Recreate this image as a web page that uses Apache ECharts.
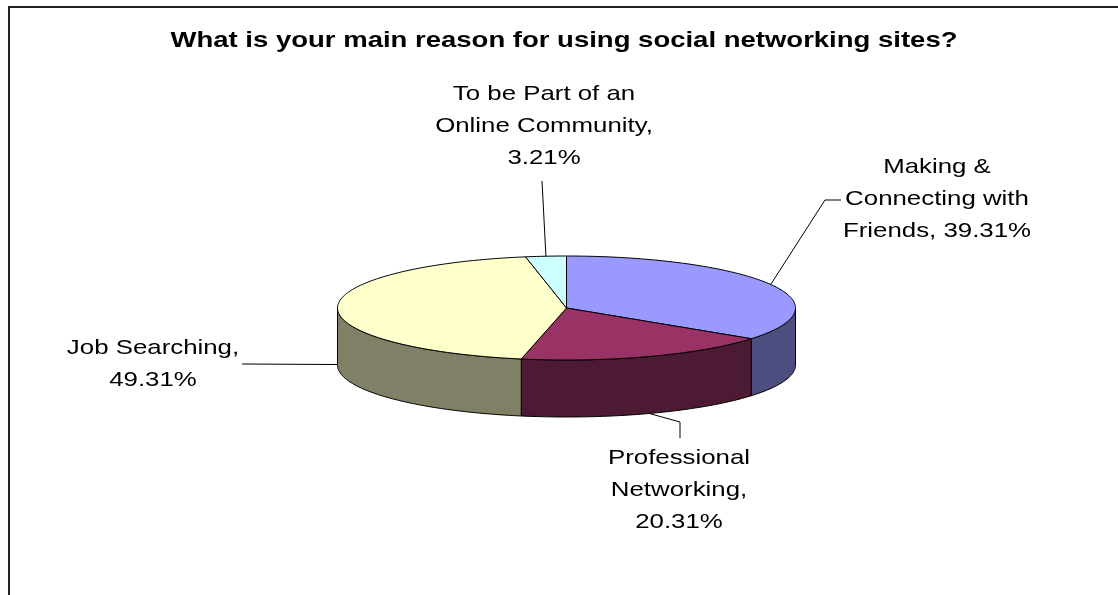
<!DOCTYPE html>
<html><head><meta charset="utf-8">
<script src="https://cdn.jsdelivr.net/npm/echarts@6/dist/echarts.min.js"></script>
<style>html,body{margin:0;padding:0;background:#fff}#c{width:1118px;height:595px}</style>
</head><body><div id="c"></div>
<script>
// ---- data ----
const titleText = 'What is your main reason for using social networking sites?';
const categories = ['Making & Connecting with Friends', 'Professional Networking', 'Job Searching', 'To be Part of an Online Community'];
const values = [39.31, 20.31, 49.31, 3.21];
const labelNames = ['Making &\nConnecting with\nFriends', 'Professional\nNetworking', 'Job Searching', 'To be Part of an\nOnline Community'];
const labelSeparators = [', ', ',\n', ',\n', ',\n'];

// ---- styles / layout ----
const topColors = ['#9999FF', '#993366', '#FFFFCC', '#CCFFFF'];
const sideColors = ['#4D4D80', '#4D1A33', '#808066', '#668080'];
const pie = { cx: 566.5, cy: 308, rx: 229, ry: 52, depth: 57 };
const labelLayout = [
  { x: 937, y: 199, leader: [[825, 200], [841, 200]], onBase: false },
  { x: 679, y: 490, leader: [[680, 422], [680, 438]], onBase: true },
  { x: 153, y: 364, leader: [[242, 364]], onBase: true },
  { x: 544, y: 126, leader: [[542, 181]], onBase: false }
];
const textScaleX = 1.23;

const total = values.reduce((a, b) => a + b, 0);
function pt(t, dy) {
  return [pie.cx + pie.rx * Math.sin(t), pie.cy - pie.ry * Math.cos(t) + (dy || 0)];
}

const chart = echarts.init(document.getElementById('c'), null, { renderer: 'canvas' });
chart.setOption({
  backgroundColor: '#ffffff',
  animation: false,
  graphic: [
    { type: 'rect', shape: { x: 9, y: 7, width: 1200, height: 700 }, style: { fill: null, stroke: '#222', lineWidth: 2 }, silent: true },
    { type: 'text', x: 564, y: 41, scaleX: 1.25, silent: true,
      style: { text: titleText, x: 0, y: 0, align: 'center', verticalAlign: 'middle', font: 'bold 22px "Liberation Sans", Arial, sans-serif', fill: '#000' } }
  ],
  series: [{
    type: 'custom',
    coordinateSystem: 'none',
    silent: true,
    data: values.map((v, i) => ({ name: categories[i], value: [v] })),
    renderItem: function (params, api) {
      const i = params.dataIndex;
      let before = 0;
      for (let k = 0; k < i; k++) before += values[k];
      const v = api.value(0);
      const a0 = before / total * 2 * Math.PI;
      const a1 = (before + v) / total * 2 * Math.PI;
      const children = [];
      // front side wall
      const s = Math.max(a0, Math.PI / 2), e = Math.min(a1, 3 * Math.PI / 2);
      if (e > s) {
        const n = Math.max(2, Math.ceil((e - s) / (Math.PI / 180)));
        const tp = [], bp = [];
        for (let j = 0; j <= n; j++) {
          const t = s + (e - s) * j / n;
          tp.push(pt(t, 0));
          bp.push(pt(t, pie.depth));
        }
        children.push({ type: 'polygon', shape: { points: tp.concat(bp.reverse()) },
          style: { fill: sideColors[i], stroke: '#000', lineWidth: 1 } });
      }
      // top face
      const n2 = Math.max(2, Math.ceil((a1 - a0) / (Math.PI / 180)));
      const pts = [[pie.cx, pie.cy]];
      for (let j = 0; j <= n2; j++) pts.push(pt(a0 + (a1 - a0) * j / n2, 0));
      children.push({ type: 'polygon', shape: { points: pts },
        style: { fill: topColors[i], stroke: '#000', lineWidth: 1 } });
      // leader line
      const L = labelLayout[i];
      const mid = (a0 + a1) / 2;
      const anchor = pt(mid, L.onBase ? pie.depth : 0);
      children.push({ type: 'polyline', shape: { points: [anchor].concat(L.leader) },
        style: { stroke: '#000', lineWidth: 1, fill: null } });
      // label
      children.push({ type: 'text', x: L.x, y: L.y, scaleX: textScaleX,
        style: { text: labelNames[i] + labelSeparators[i] + v.toFixed(2) + '%', x: 0, y: 0,
          align: 'center', verticalAlign: 'middle', lineHeight: 32,
          font: '21px "Liberation Sans", Arial, sans-serif', fill: '#000' } });
      return { type: 'group', children: children };
    }
  }]
});
</script>
</body></html>
